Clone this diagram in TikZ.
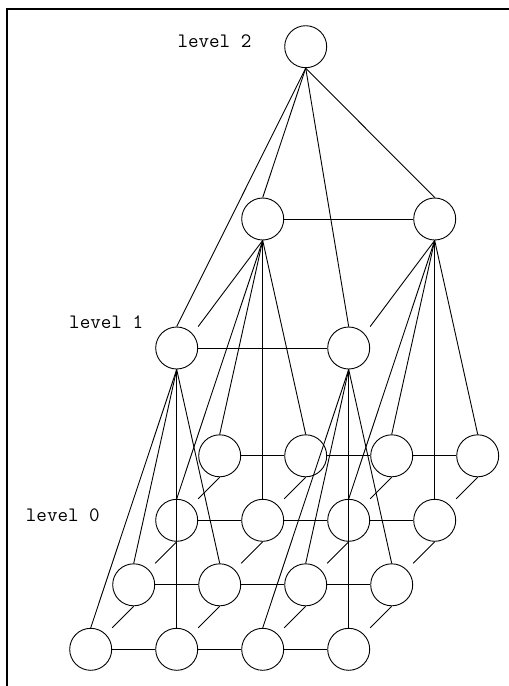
\documentclass[tikz,border=0pt]{standalone}
\usetikzlibrary{calc}
\tikzset{
  vertex/.style={circle,draw,line width=0.9pt,minimum size=42pt,inner sep=0pt},
  edge/.style={line width=0.9pt},
  lvl/.style={font=\ttfamily\fontsize{20.5}{22}\selectfont,anchor=base west,inner sep=0pt},
  frame/.style={line width=2pt}
}
\begin{document}
\begin{tikzpicture}[x=1pt,y=-1pt]
\useasboundingbox (0,0) rectangle (509,686);
\draw[frame] (7,686) -- (7,9) -- (509,9);
% level 0
\foreach \i in {0,...,3}{\foreach \j in {0,...,3}{
  \node[vertex] (a\i\j) at ({90.7+86*\j+43*\i},{649.3-64.5*\i}) {};
}}
% level 1
\foreach \i in {0,1}{\foreach \j in {0,1}{
  \node[vertex] (b\i\j) at ({176.7+172*\j+86*\i},{348-129*\i}) {};
}}
% level 2
\node[vertex] (c) at (305.7,46.7) {};
% labels
\node[lvl] (l2) at (177.3,47.7) {level 2};
\node[lvl] (l1) at (69,328) {level 1};
\node[lvl] (l0) at (25.7,521.7) {level 0};
% level 2 -> level 1
\foreach \i in {0,1}{\foreach \j in {0,1}{
  \draw[edge] (c.south) -- (b\i\j.north);
}}
% level 1 horizontal and depth
\foreach \i in {0,1}{\draw[edge] (b\i0) -- (b\i1);}
\foreach \j in {0,1}{\draw[edge] (b1\j.south) -- (b0\j.east |- b0\j.north);}
% level 1 -> level 0
\foreach \i in {0,1}{\foreach \j in {0,1}{\foreach \p in {0,1}{\foreach \q in {0,1}{
  \pgfmathtruncatemacro\rr{2*\i+\p}\pgfmathtruncatemacro\cc{2*\j+\q}
  \draw[edge] (b\i\j.south) -- (a\rr\cc.north);
}}}}
% level 0 horizontal
\foreach \i in {0,...,3}{\foreach \j/\k in {0/1,1/2,2/3}{
  \draw[edge] (a\i\j) -- (a\i\k);
}}
% level 0 depth
\foreach \i/\k in {1/0,2/1,3/2}{\foreach \j in {0,...,3}{
  \draw[edge] (a\i\j.south) -- (a\k\j.east |- a\k\j.north);
}}
\end{tikzpicture}
\end{document}
